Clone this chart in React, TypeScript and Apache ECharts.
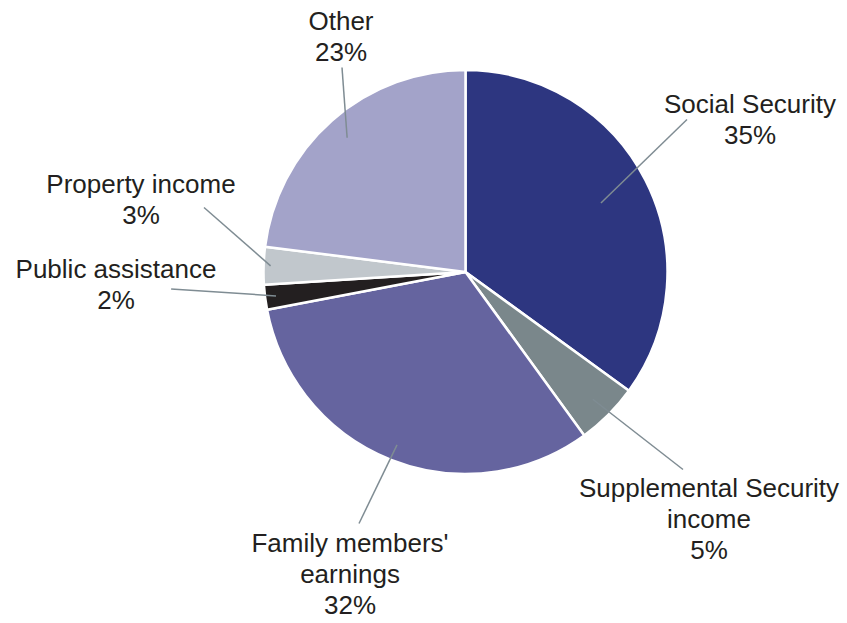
import React, { useEffect, useRef } from "react";
import * as echarts from "echarts";

const categories = [
  "Social Security",
  "Supplemental Security\nincome",
  "Family members'\nearnings",
  "Public assistance",
  "Property income",
  "Other",
];
const shares = [35, 5, 32, 2, 3, 23];
const sliceColors = ["#2D3680", "#7A878B", "#65649F", "#231F20", "#C1C7CC", "#A3A3C9"];

// label text centres (layout)
const textPos: [number, number][] = [
  [750, 119],
  [709, 519],
  [350, 574],
  [116, 284],
  [141, 199],
  [341, 36],
];
// leader line end points (layout)
const lineEnd: [number, number][] = [
  [687, 119],
  [683, 470],
  [359, 524],
  [171, 289],
  [204, 207],
  [342, 67],
];
// radius where each leader line starts (layout)
const lineStartR = [152, 180, 186, 191, 195, 179];

export default function App() {
  const ref = useRef<HTMLDivElement>(null);
  useEffect(() => {
    if (!ref.current) return;
    const chart = echarts.init(ref.current, null, { renderer: "svg" });
    const data = categories.map((c, i) => ({
      name: c,
      value: shares[i],
      itemStyle: { color: sliceColors[i] },
    }));
    const guideSeries = categories.map((_, k) => ({
      type: "pie",
      center: [465.5, 272],
      radius: [0, lineStartR[k]],
      startAngle: 90,
      clockwise: true,
      avoidLabelOverlap: false,
      silent: true,
      itemStyle: { color: "rgba(0,0,0,0)", borderWidth: 0 },
      label: {
        show: true,
        position: "outside",
        formatter: " ",
        fontSize: 1,
        color: "rgba(0,0,0,0)",
      },
      labelLine: {
        show: true,
        length: 10,
        length2: 0,
        lineStyle: { color: "#7F8C93", width: 1.5 },
      },
      labelLayout: (p: any) => ({
        x: lineEnd[p.dataIndex][0],
        y: lineEnd[p.dataIndex][1],
        align: "center",
        verticalAlign: "middle",
      }),
      data: categories.map((c, i) => ({
        name: c,
        value: shares[i],
        label: { show: i === k },
        labelLine: { show: i === k },
      })),
      z: 2,
    }));
    chart.setOption({
      animation: false,
      textStyle: { fontFamily: "Liberation Sans" },
      series: [
        {
          type: "pie",
          center: [465.5, 272],
          radius: [0, 202],
          startAngle: 90,
          clockwise: true,
          avoidLabelOverlap: false,
          silent: true,
          itemStyle: { borderColor: "#ffffff", borderWidth: 2.5 },
          label: {
            show: true,
            position: "outside",
            formatter: (p: any) => `${p.name}\n${p.value}%`,
            fontFamily: "Liberation Sans",
            fontSize: 26,
            lineHeight: 31,
            color: "#231F20",
            align: "center",
          },
          labelLine: { show: false },
          labelLayout: (p: any) => ({
            x: textPos[p.dataIndex][0],
            y: textPos[p.dataIndex][1],
            align: "center",
            verticalAlign: "middle",
          }),
          data,
          z: 1,
        },
        ...guideSeries,
      ],
    });
    return () => chart.dispose();
  }, []);
  return (
    <div
      ref={ref}
      style={{ position: "absolute", left: 0, top: 0, width: 847, height: 623 }}
    />
  );
}
